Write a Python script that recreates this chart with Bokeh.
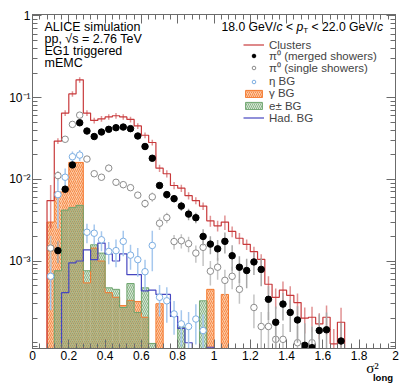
import numpy as np
from bokeh.plotting import figure
from bokeh.models import (Legend, LegendItem, Label, LinearAxis, LogAxis, Range1d,
                          SingleIntervalTicker, FixedTicker, CustomJSTickFormatter,
                          CustomLabelingPolicy)
from bokeh.embed import file_html
from bokeh.resources import INLINE

nan = float("nan")

# ---------------- data: 50 bins of width 0.04 in sigma^2_long (0 .. 2) ----------------
bin_width = 0.04
x_low, x_high = 0.0, 2.0
y_low, y_high = 8.5e-5, 1.04
y_major = [1e-3, 1e-2, 1e-1, 1.0]

clusters = [0, 0, 5.5e-3, 2.94e-2, 6.46e-2, 0.111, 0.165, 6.46e-2, 5.25e-2, 5.5e-2,
            5.8e-2, 6.0e-2, 5.8e-2, 5.4e-2, 4.5e-2, 3.46e-2, 2.82e-2, 1.37e-2, 1.17e-2, 8.4e-3,
            7.8e-3, 6.3e-3, 5.5e-3, 4.7e-3, 3.1e-3, 2.7e-3, 3.0e-3, 2.3e-3, 1.9e-3, 1.6e-3,
            1.3e-3, 1.05e-3, 5.2e-4, 3.6e-4, 4.4e-4, 3.8e-4, 3.1e-4, 2.0e-4, 2.05e-4, 1.7e-4,
            2.05e-4, 9.7e-5, 1.78e-4, 0, 0, 0, 0, 0, 0, 0]
clusters_err = [0, 0, 3.0e-3, 2.4e-3, 5.2e-3, 8.9e-3, 1.3e-2, 5.2e-3, 4.2e-3, 4.4e-3,
                4.6e-3, 4.8e-3, 4.6e-3, 4.3e-3, 3.6e-3, 2.8e-3, 2.3e-3, 1.4e-3, 1.2e-3, 8.5e-4,
                8.0e-4, 6.5e-4, 5.5e-4, 5.0e-4, 4.7e-4, 4.0e-4, 6.0e-4, 3.5e-4, 3.0e-4, 2.4e-4,
                2.0e-4, 1.6e-4, 1.3e-4, 1.0e-4, 1.2e-4, 1.1e-4, 9e-5, 7e-5, 7e-5, 6e-5,
                8e-5, 5e-5, 9e-5, 0, 0, 0, 0, 0, 0, 0]

merged = [nan, nan, nan, 1.34e-3, 7.57e-3, 1.50e-2, 4.92e-2, 3.90e-2, 3.34e-2, 3.79e-2,
          4.09e-2, 4.28e-2, 4.36e-2, 4.17e-2, 3.39e-2, 2.52e-2, 1.81e-2, 8.4e-3, 6.5e-3, 5.8e-3,
          4.7e-3, 3.75e-3, 3.39e-3, 2.0e-3, 1.61e-3, 1.41e-3, 1.74e-3, 1.16e-3, 8.4e-4, 7.65e-4,
          9.75e-4, 7.9e-4, 3.4e-4, 1.78e-4, 2.97e-4, 2.35e-4, 1.9e-4, 9.3e-5, 8.7e-5, 1.41e-4,
          1.44e-4, nan, 1.05e-4, nan, nan, nan, nan, nan, nan, nan]
merged_err = [nan, nan, nan, 4e-4, 8e-4, 1.0e-3, 2.0e-3, 1.6e-3, 1.3e-3, 1.5e-3,
              1.6e-3, 1.7e-3, 1.7e-3, 1.7e-3, 1.4e-3, 1.1e-3, 9e-4, 7e-4, 7e-4, 6e-4,
              6e-4, 6e-4, 5e-4, 4.5e-4, 4e-4, 4e-4, 5e-4, 4e-4, 3e-4, 3e-4,
              3e-4, 3e-4, 1.5e-4, 1.0e-4, 1.1e-4, 1.0e-4, 9e-5, 8e-5, 7e-5, 8e-5,
              9e-5, nan, 7e-5, nan, nan, nan, nan, nan, nan, nan]

single = [nan, nan, 1.44e-3, 1.11e-2, 3.09e-2, 4.70e-2, 6.10e-2, 1.77e-2, 1.17e-2, 1.06e-2,
          1.37e-2, 9.2e-3, 8.6e-3, 7.9e-3, 6.4e-3, 5.05e-3, 6.1e-3, 2.9e-3, 3.4e-3, 1.73e-3,
          1.77e-3, 1.63e-3, 1.25e-3, 1.47e-3, 7.5e-4, 8.4e-4, 5.8e-4, 6.5e-4, 4.5e-4, nan,
          2.7e-4, 1.58e-4, 1.58e-4, 1.1e-4, 1.1e-4, nan, 1.0e-4, nan, 1.0e-4, nan,
          nan, nan, nan, nan, nan, nan, nan, nan, nan, nan]
single_err = [nan, nan, 6e-4, 1.5e-3, 2.0e-3, 2.5e-3, 3.0e-3, 1.3e-3, 1.0e-3, 9e-4,
              1.5e-3, 8e-4, 8e-4, 7e-4, 6e-4, 6e-4, 8e-4, 5e-4, 5e-4, 3.5e-4,
              3.5e-4, 3.5e-4, 3e-4, 6e-4, 2.5e-4, 2.5e-4, 2e-4, 2e-4, 1.5e-4, nan,
              1.2e-4, 8e-5, 8e-5, 6e-5, 6e-5, nan, 6e-5, nan, 6e-5, nan,
              nan, nan, nan, nan, nan, nan, nan, nan, nan, nan]

eta = [nan, nan, 6.5e-4, 6.5e-3, 1.06e-2, 1.89e-2, 1.98e-2, 2.25e-3, 2.19e-3, 1.82e-3,
       1.31e-3, 1.34e-3, 1.74e-3, 1.18e-3, 1.04e-3, 7.4e-4, 1.55e-3, 3.6e-4, 3.26e-4, 2.25e-4,
       1.7e-4, 1.58e-4, 1.95e-4, 1.41e-4, nan, nan, nan, nan, nan, nan,
       nan, nan, nan, nan, nan, nan, nan, nan, nan, nan,
       nan, nan, nan, nan, nan, nan, nan, nan, nan, nan]
eta_err = [nan, nan, 4e-4, 4e-3, 3e-3, 3e-3, 3e-3, 6e-4, 6e-4, 5e-4,
           4e-4, 5e-4, 6e-4, 4e-4, 4e-4, 3e-4, 8e-4, 1.5e-4, 1.5e-4, 1.0e-4,
           8e-5, 8e-5, 1e-4, 8e-5, nan, nan, nan, nan, nan, nan,
           nan, nan, nan, nan, nan, nan, nan, nan, nan, nan,
           nan, nan, nan, nan, nan, nan, nan, nan, nan, nan]

gamma_bg = [0, 0, 3.0e-3, 7.0e-3, 7.0e-3, 1.61e-2, 1.61e-2, 5.4e-4, 1.44e-3, 1.0e-3,
            4.1e-4, 3.6e-4, 2.85e-4, 3.3e-4, 3.2e-4, 2.05e-4, 0, 3.0e-4, 0, 0,
            0, 0, 0, 0, 4.5e-4, 0, 3.9e-4, 0, 0, 0,
            0, 0, 0, 0, 0, 0, 0, 0, 0, 0,
            0, 0, 0, 0, 0, 0, 0, 0, 0, 0]
electron_bg = [0, 0, 0, 7.6e-4, 4.2e-3, 4.5e-3, 4.8e-3, 7.6e-4, 1.58e-3, 1.25e-3,
               4.7e-4, 4.5e-4, 2.7e-4, 5.3e-4, 2.35e-4, 4.7e-4, 9.8e-5, 0, 0, 0,
               1.55e-4, 0, 0, 3.26e-4, 0, 0, 0, 0, 0, 0,
               0, 0, 0, 0, 0, 0, 0, 0, 0, 0,
               0, 0, 0, 0, 0, 0, 0, 0, 0, 0]
hadron_bg = [0, 0, 0, 0, 4.1e-4, 9.5e-4, 1.0e-3, 1.37e-3, 1.04e-3, 1.66e-3,
             1.22e-3, 1.0e-3, 1.22e-3, 6.8e-4, 6.8e-4, 4.3e-4, 4.4e-4, 3.9e-4, 3.9e-4, 2.1e-4,
             1.5e-4, 1.0e-4, 0, 0, 8.8e-5, 0, 0, 0, 0, 0,
             0, 0, 0, 0, 0, 0, 0, 0, 0, 0,
             0, 0, 0, 0, 0, 0, 0, 0, 0, 0]

legend_labels = ["Clusters", "\u03c0\u2070 (merged showers)", "\u03c0\u2070 (single showers)",
                 "\u03b7 BG", "\u03b3 BG", "e\u00b1 BG", "Had. BG"]
info_lines = ["ALICE simulation", "pp, \u221as = 2.76 TeV", "EG1 triggered", "mEMC"]
x_title_main, x_title_sub = "\u03c3\u00b2", "long"
x_title_main_at, x_title_sub_at = 1.873, 1.931   # horizontal text positions (axis units)

# ---------------- helpers ----------------
edges = x_low + bin_width * np.arange(len(clusters) + 1)
centers = 0.5 * (edges[:-1] + edges[1:])
FLOOR = 1e-7
y_minor = [k * 10.0 ** e for e in range(-5, 1) for k in range(1, 10)
           if y_low <= k * 10.0 ** e <= y_high and (k * 10.0 ** e) not in y_major]


def step_xy(vals, floor):
    v = np.asarray(vals, dtype=float)
    v = np.where(v > 0, v, floor)
    xs = np.repeat(edges, 2)
    ys = np.concatenate([[floor], np.repeat(v, 2), [floor]])
    return xs, ys


def pts(vals, errs):
    v = np.asarray(vals, dtype=float)
    e = np.asarray(errs, dtype=float)
    m = np.isfinite(v) & (v > 0)
    return centers[m], v[m], np.maximum(v[m] - e[m], FLOOR), v[m] + e[m]


FONT = "Liberation Sans"
AXC = "#6b6b6b"
RED = "#c8393b"
ORANGE_LINE = "#f47a30"
ORANGE_HATCH = "#f5884a"
ORANGE_FILL = "#fdcaa2"
GREEN_LINE = "#6ea56e"
GREEN_FILL = "#a9cfa6"
GREEN_HATCH = "#5f955f"
HAD = "#4646c0"
GRAY = "#8c8c8c"
BLUE = "#7caee2"

W, H = 399, 385
ML, MR, MT, MB = 32, 4, 14, 34
FW, FH = W - ML - MR, H - MT - MB

p = figure(width=W, height=H, x_range=Range1d(x_low, x_high), y_range=Range1d(y_low, y_high),
           y_axis_type="log", output_backend="svg", toolbar_location=None,
           min_border_left=ML, min_border_right=MR, min_border_top=MT, min_border_bottom=MB)
p.grid.visible = False
p.outline_line_color = AXC
p.background_fill_color = "white"
p.border_fill_color = "white"

xfmt = CustomJSTickFormatter(code="""
const r = Math.round(tick);
if (Math.abs(tick - r) < 1e-6) return r.toFixed(0);
return tick.toFixed(1);
""")
yfmt = CustomJSTickFormatter(code="""
const e = Math.round(Math.log10(tick));
if (e == 0) return "1";
const s = {"-1": "\u207b\u00b9", "-2": "\u207b\u00b2", "-3": "\u207b\u00b3"};
return "10" + s[String(e)];
""")
empty_fmt = CustomJSTickFormatter(code="return ''")
no_labels = CustomLabelingPolicy(code="return []")


def style(ax, show_labels):
    ax.axis_line_color = AXC
    ax.major_tick_line_color = AXC
    ax.minor_tick_line_color = AXC
    ax.major_tick_in = 9
    ax.major_tick_out = 0
    ax.minor_tick_in = 5
    ax.minor_tick_out = 0
    ax.major_label_text_font = FONT
    ax.major_label_text_color = "black"
    if show_labels:
        ax.major_label_text_font_size = "12px"
        ax.major_label_standoff = 2
    else:
        ax.major_label_text_font_size = "0px"
        ax.major_label_standoff = 0
        ax.formatter = empty_fmt
        ax.major_label_policy = no_labels


def x_ticker():
    return SingleIntervalTicker(interval=0.2, num_minor_ticks=5)


def y_ticker():
    return FixedTicker(ticks=y_major, minor_ticks=y_minor)


p.xaxis.ticker = x_ticker()
p.xaxis.formatter = xfmt
p.yaxis.ticker = y_ticker()
p.yaxis.formatter = yfmt
style(p.xaxis[0], True)
style(p.yaxis[0], True)
top_ax = LinearAxis(ticker=x_ticker())
right_ax = LogAxis(ticker=y_ticker())
style(top_ax, False)
style(right_ax, False)
p.add_layout(top_ax, "above")
p.add_layout(right_ax, "right")


def title_axis(pos, text, size, font, style_, standoff):
    ax = LinearAxis(ticker=FixedTicker(ticks=[pos], minor_ticks=[]),
                    formatter=CustomJSTickFormatter(code="return %r" % text))
    ax.axis_line_color = None
    ax.major_tick_line_color = None
    ax.minor_tick_line_color = None
    ax.major_tick_in = 0
    ax.major_tick_out = 0
    ax.minor_tick_in = 0
    ax.minor_tick_out = 0
    ax.major_label_standoff = standoff
    ax.major_label_text_font = font
    ax.major_label_text_font_size = size
    ax.major_label_text_font_style = style_
    ax.major_label_text_color = "black"
    p.add_layout(ax, "below")


title_axis(x_title_main_at, x_title_main, "15px", "Liberation Serif", "normal", -3)
title_axis(x_title_sub_at, x_title_sub, "9.5px", FONT, "bold", -7)

# ---------------- background histograms ----------------
g = np.asarray(gamma_bg, float)
mg = g > 0
gl, gr, gt = edges[:-1][mg], edges[1:][mg], g[mg]
p.quad(left=gl, right=gr, bottom=FLOOR, top=gt,
       fill_color=ORANGE_FILL, fill_alpha=1.0, line_color=None,
       hatch_pattern="/", hatch_color=ORANGE_HATCH, hatch_scale=4, hatch_weight=1)
el = np.asarray(electron_bg, float)
me = el > 0
ell, elr, elt = edges[:-1][me], edges[1:][me], el[me]
p.quad(left=ell, right=elr, bottom=FLOOR, top=elt,
       fill_color=GREEN_FILL, fill_alpha=0.45, line_color=None,
       hatch_pattern="\\", hatch_color=GREEN_HATCH, hatch_alpha=0.65, hatch_scale=4, hatch_weight=1)
xs, ys = step_xy(gamma_bg, FLOOR)
p.line(xs, ys, line_color=ORANGE_LINE, line_width=1)
xs, ys = step_xy(electron_bg, FLOOR)
p.line(xs, ys, line_color=GREEN_LINE, line_width=1)

# swatch renderers for the legend (hidden in the plot itself)
r_gamma_leg = p.quad(left=gl, right=gr, bottom=FLOOR, top=gt, fill_color=ORANGE_FILL,
                     line_color=ORANGE_LINE, hatch_pattern="/", hatch_color=ORANGE_HATCH,
                     hatch_scale=4, hatch_weight=1, visible=False)
r_ele_leg = p.quad(left=ell, right=elr, bottom=FLOOR, top=elt, fill_color=GREEN_FILL,
                   fill_alpha=0.45, line_color=GREEN_LINE, hatch_pattern="\\",
                   hatch_color=GREEN_HATCH, hatch_alpha=0.65, hatch_scale=4, hatch_weight=1,
                   visible=False)

xs, ys = step_xy(hadron_bg, y_low)
r_had = p.line(xs, ys, line_color=HAD, line_width=1.2)

# clusters
cx, cv, clo, chi = pts(clusters, clusters_err)
p.segment(x0=cx, y0=clo, x1=cx, y1=chi, line_color=RED, line_alpha=0.55, line_width=1.5)
xs, ys = step_xy(clusters, FLOOR)
r_cl = p.line(xs, ys, line_color=RED, line_width=1.2)

# eta BG points
ex, ev, elo, ehi = pts(eta, eta_err)
p.segment(x0=ex, y0=elo, x1=ex, y1=ehi, line_color="#a6c8ee", line_width=1.5)
r_eta = p.scatter(ex, ev, marker="circle", size=6.5, fill_color="white", line_color=BLUE,
                  line_width=1)

# pi0 single showers
sx, sv, slo, shi = pts(single, single_err)
p.segment(x0=sx, y0=slo, x1=sx, y1=shi, line_color="#c4c4c4", line_width=1.5)
r_single = p.scatter(sx, sv, marker="circle", size=6.5, fill_color="white", line_color=GRAY,
                     line_width=1)

# pi0 merged showers
mx, mv, mlo, mhi = pts(merged, merged_err)
p.segment(x0=mx, y0=mlo, x1=mx, y1=mhi, line_color="#a8a8a8", line_width=1.5)
r_merged = p.scatter(mx, mv, marker="circle", size=6.5, fill_color="black", line_color="black")

# ---------------- texts (frame-relative screen units, baselines) ----------------
def lab(x, y_from_top, text, size="12.5px", style="normal", font=FONT):
    p.add_layout(Label(x=x, y=FH - y_from_top, x_units="screen", y_units="screen", text=text,
                       text_font=font, text_font_size=size, text_font_style=style,
                       text_baseline="alphabetic", text_align="left", text_color="black"))


for i, t in enumerate(info_lines):
    lab(12, 15.3 + 12.2 * i, t)

x0, base = 189.0, 15.3
lab(x0, base, "18.0 GeV/", "12.2px")
lab(x0 + 54.9, base, "c", "12.2px", "italic")
lab(x0 + 64.4, base, "<", "12.2px")
lab(x0 + 74.9, base, "p", "12.2px", "italic")
lab(x0 + 81.7, base + 3.2, "T", "8px")
lab(x0 + 90.0, base, "< 22.0 GeV/", "12.2px")
lab(x0 + 155.4, base, "c", "12.2px", "italic")

# ---------------- legend: one row per entry ----------------
LEG_X, LEG_Y0, LEG_DY, ROW_H = 211, 33.5, 12.2, 12
rows = [r_cl, r_merged, r_single, r_eta, r_gamma_leg, r_ele_leg, r_had]
for i, (text, rend) in enumerate(zip(legend_labels, rows)):
    lg = Legend(items=[LegendItem(label=text, renderers=[rend])],
                location=(LEG_X, FH - (LEG_Y0 + LEG_DY * i) - ROW_H / 2))
    lg.glyph_width = 21
    lg.glyph_height = 9
    lg.label_height = ROW_H
    lg.label_standoff = 5
    lg.spacing = 0
    lg.padding = 0
    lg.margin = 0
    lg.border_line_alpha = 0
    lg.background_fill_alpha = 0
    lg.inactive_fill_alpha = 0
    lg.label_text_font = FONT
    lg.label_text_font_size = "11.5px"
    p.add_layout(lg, "center")

open("out.html", "w").write(file_html(p, INLINE))
